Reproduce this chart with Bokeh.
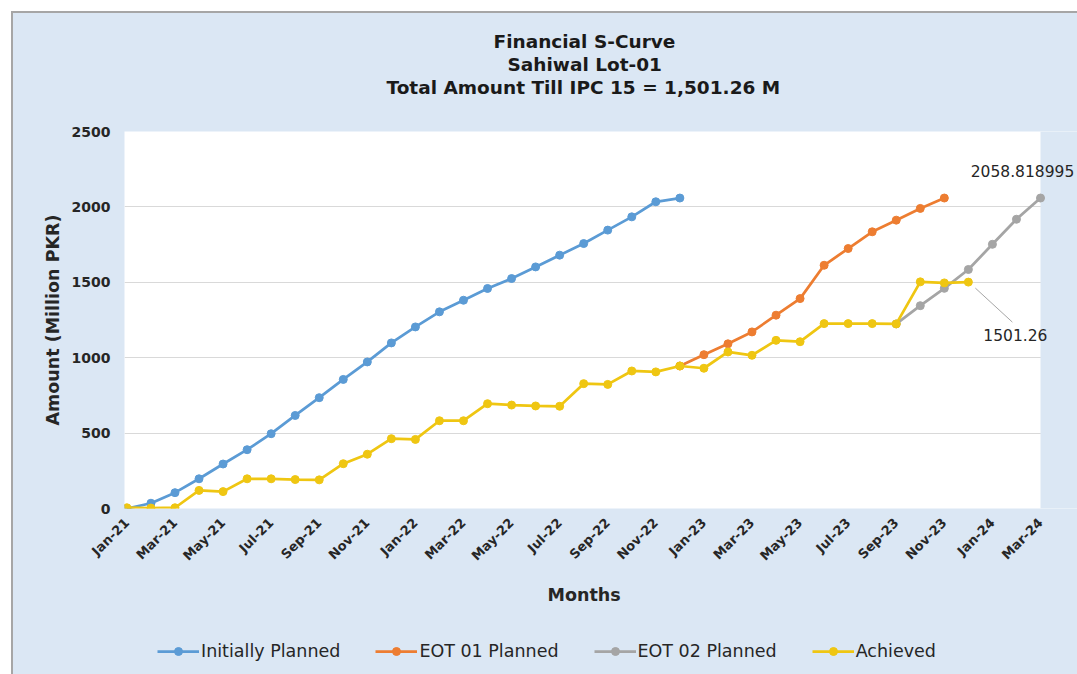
from math import pi
from bokeh.plotting import figure
from bokeh.models import (Range1d, FixedTicker, Legend, LegendItem, Label, Spacer,
                          Title, BoxAnnotation)
from bokeh.layouts import column, row
from bokeh.embed import file_html
from bokeh.resources import INLINE

# ---------------- data ----------------
months = [
    "Jan-21", "Feb-21", "Mar-21", "Apr-21", "May-21", "Jun-21", "Jul-21", "Aug-21", "Sep-21", "Oct-21", "Nov-21", "Dec-21",
    "Jan-22", "Feb-22", "Mar-22", "Apr-22", "May-22", "Jun-22", "Jul-22", "Aug-22", "Sep-22", "Oct-22", "Nov-22", "Dec-22",
    "Jan-23", "Feb-23", "Mar-23", "Apr-23", "May-23", "Jun-23", "Jul-23", "Aug-23", "Sep-23", "Oct-23", "Nov-23", "Dec-23",
    "Jan-24", "Feb-24", "Mar-24",
]
tick_labels = months[::2]

# Initially Planned: Jan-21 .. Dec-22
initially_start = "Jan-21"
initially_planned = [0, 35, 105, 197, 295, 390, 496, 617, 735, 856, 972, 1098,
                     1204, 1304, 1381, 1459, 1525, 1602, 1680, 1757, 1846, 1934, 2034, 2058.818995]

# EOT 01 Planned: Dec-22 .. Nov-23
eot01_start = "Dec-22"
eot01_planned = [945, 1020, 1092, 1171, 1282, 1392, 1613, 1724, 1835, 1912, 1990, 2058.818995]

# EOT 02 Planned: Sep-23 .. Mar-24
eot02_start = "Sep-23"
eot02_planned = [1224, 1345, 1460, 1585, 1752, 1918, 2058.818995]

# Achieved: Jan-21 .. Dec-23
achieved_start = "Jan-21"
achieved = [5, 3, 5, 120, 112, 197, 197, 192, 190, 297, 360, 463,
            458, 582, 582, 695, 686, 680, 678, 828, 823, 912, 906, 945,
            930, 1038, 1016, 1115, 1106, 1226, 1226, 1226, 1224, 1503, 1496, 1501.26]

series_names = ["Initially Planned", "EOT 01 Planned", "EOT 02 Planned", "Achieved"]
series_colors = ["#5b9bd5", "#ed7d31", "#a5a5a5", "#efc612"]

title_lines = ["Financial S-Curve", "Sahiwal Lot-01", "Total Amount Till IPC 15 = 1,501.26 M"]
x_axis_title = "Months"
y_axis_title = "Amount (Million PKR)"
y_ticks = list(range(0, 2501, 500))

# ---------------- layout constants ----------------
FONT = "DejaVu Sans"
TXT = "#262626"
BG = "#dbe7f4"
FRAME_W, FRAME_H = 916, 377        # visible white plot area
EXTRA_R = 37                       # frame extends past plot area (covered by BG box)
X_MIN, X_LAST = -0.1, len(months) - 1
px_x = FRAME_W / (X_LAST - X_MIN)
X_END = X_LAST + EXTRA_R / px_x
Y_MIN, Y_MAX = 0, 2500
px_y = FRAME_H / (Y_MAX - Y_MIN)

p = figure(
    width=1064, height=615,
    x_range=Range1d(X_MIN, X_END), y_range=Range1d(Y_MIN, Y_MAX),
    output_backend="svg", toolbar_location=None,
    min_border_left=111, min_border_right=0, min_border_top=118, min_border_bottom=120,
    background_fill_color="white", border_fill_color=BG,
    outline_line_color=None,
)

# title: "above" panels stack outward from the frame; the figure's own title is outermost.
title_offsets = [369, 383, 262]   # left offsets that centre each line over the plot area
def style_title(t, offset, standoff=0, size="18.5px"):
    t.align = "left"
    t.offset = offset
    t.standoff = standoff
    t.text_font = FONT
    t.text_font_size = size
    t.text_font_style = "bold"
    t.text_color = "#1a1a1a"

gap = Title(text=" ")
style_title(gap, 0, standoff=31, size="1px")
p.add_layout(gap, "above")
for idx in (2, 1):
    t = Title(text=title_lines[idx])
    style_title(t, title_offsets[idx])
    p.add_layout(t, "above")
p.title.text = title_lines[0]
style_title(p.title, title_offsets[0])

# y axis
p.yaxis.ticker = FixedTicker(ticks=y_ticks)
p.yaxis.axis_line_color = None
p.yaxis.major_tick_line_color = None
p.yaxis.major_tick_out = 0
p.yaxis.minor_tick_line_color = None
p.yaxis.major_label_standoff = 14
p.yaxis.major_label_text_font = FONT
p.yaxis.major_label_text_font_size = "14px"
p.yaxis.major_label_text_font_style = "bold"
p.yaxis.major_label_text_color = TXT
p.yaxis.axis_label = y_axis_title
p.yaxis.axis_label_text_font = FONT
p.yaxis.axis_label_text_font_size = "17.5px"
p.yaxis.axis_label_text_font_style = "bold"
p.yaxis.axis_label_text_color = TXT
p.yaxis.axis_label_standoff = 6

# x axis
x_ticks = list(range(0, len(months), 2))
p.xaxis.ticker = FixedTicker(ticks=x_ticks)
p.xaxis.major_label_overrides = {i: lab for i, lab in zip(x_ticks, tick_labels)}
p.xaxis.major_label_orientation = pi / 4
p.xaxis.axis_line_color = None
p.xaxis.major_tick_line_color = None
p.xaxis.major_tick_out = 0
p.xaxis.minor_tick_line_color = None
p.xaxis.major_label_standoff = 12
p.xaxis.major_label_text_font = FONT
p.xaxis.major_label_text_font_size = "13px"
p.xaxis.major_label_text_font_style = "bold"
p.xaxis.major_label_text_color = TXT

p.add_layout(Title(text=x_axis_title, align="left", offset=423, standoff=22,
                   text_font=FONT, text_font_size="17.5px", text_font_style="bold",
                   text_color=TXT), "below")

p.xgrid.visible = False
p.ygrid.grid_line_color = "#d9d9d9"

# blue strip right of the plot area (frame extension)
p.add_layout(BoxAnnotation(left=X_LAST, fill_color=BG, fill_alpha=1.0,
                           line_color=None, level="underlay"))

# series
series = [
    (initially_start, initially_planned),
    (eot01_start, eot01_planned),
    (eot02_start, eot02_planned),
    (achieved_start, achieved),
]
for name, color, (start, vals) in zip(series_names, series_colors, series):
    i0 = months.index(start)
    xs = list(range(i0, i0 + len(vals)))
    p.line(xs, vals, line_color=color, line_width=2.75)
    p.scatter(xs, vals, marker="circle", size=8, fill_color=color, line_color=color)

# data labels
last_x2 = months.index(eot02_start) + len(eot02_planned) - 1
p.add_layout(Label(
    x=last_x2, y=eot02_planned[-1], text=f"{eot02_planned[-1]}",
    x_offset=-18, y_offset=27, text_align="center", text_baseline="middle",
    text_font=FONT, text_font_size="15.5px", text_color=TXT,
))

last_xa = months.index(achieved_start) + len(achieved) - 1
p.add_layout(Label(
    x=last_xa, y=achieved[-1], text=f"{achieved[-1]}",
    x_offset=47, y_offset=-53, text_align="center", text_baseline="middle",
    text_font=FONT, text_font_size="15.5px", text_color=TXT,
))
p.segment(
    x0=[last_xa + 7 / px_x], y0=[achieved[-1] - 6 / px_y],
    x1=[last_xa + 44 / px_x], y1=[achieved[-1] - 40 / px_y],
    line_color="#a6a6a6", line_width=1,
)

# ---------------- legend strip (separate figure below the chart) ----------------
# same series drawn again, but the ranges keep them out of view: only the legend shows.
q = figure(
    width=1064, height=46, x_range=Range1d(-3, -2), y_range=Range1d(-3, -2),
    x_axis_type=None, y_axis_type=None, output_backend="svg", toolbar_location=None,
    min_border=0, background_fill_color=BG, border_fill_color=BG,
    outline_line_color=BG, outline_line_width=3,
)
q.xgrid.visible = False
q.ygrid.visible = False
items = []
for name, color, (start, vals) in zip(series_names, series_colors, series):
    i0 = months.index(start)
    xs = list(range(i0, i0 + len(vals)))
    rl = q.line(xs, vals, line_color=color, line_width=2.75)
    rs = q.scatter(xs, vals, marker="circle", size=8, fill_color=color, line_color=color)
    items.append(LegendItem(label=name, renderers=[rl, rs]))
legend = Legend(
    items=items, orientation="horizontal", location=(33, 13),
    glyph_width=42, glyph_height=20, label_standoff=2, spacing=35,
    padding=5, margin=0, background_fill_alpha=0, border_line_color=None,
    label_text_font=FONT, label_text_font_size="17.5px", label_text_color=TXT,
)
q.add_layout(legend)

border = "#a6a6a6"
chart = column(p, q, styles={"background-color": BG})
inner = column(
    Spacer(width=1066, height=2, styles={"background-color": border}),
    row(Spacer(width=2, height=661, styles={"background-color": border}), chart),
)
layout = column(Spacer(height=11), row(Spacer(width=11), inner))
open("out.html", "w").write(file_html(layout, INLINE))
